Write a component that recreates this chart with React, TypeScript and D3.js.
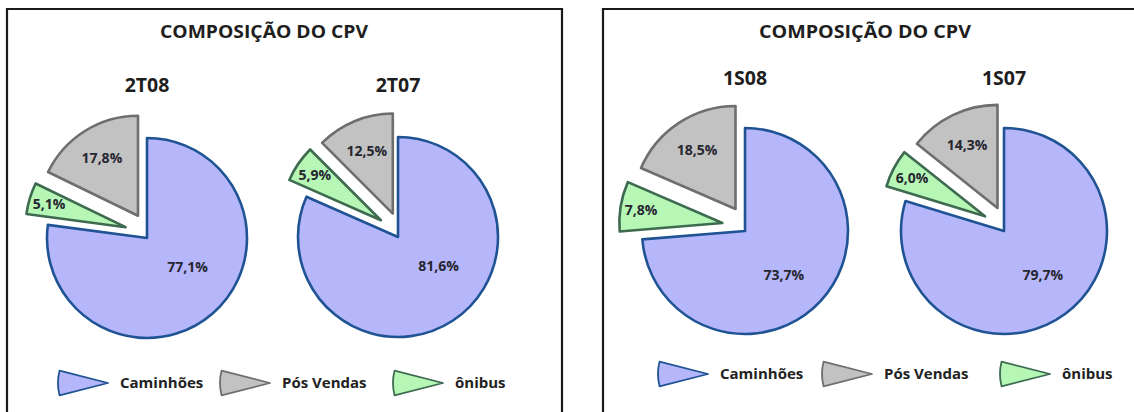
import React from "react";
import * as d3 from "d3";

// ---------- data ----------
const chartTitle = "COMPOSIÇÃO DO CPV";
const periods = ["2T08", "2T07", "1S08", "1S07"];
const sliceOrder = ["Caminhões", "ônibus", "Pós Vendas"]; // clockwise from 12 o'clock
const legendOrder = ["Caminhões", "Pós Vendas", "ônibus"];
const caminhoes = [77.1, 81.6, 73.7, 79.7];
const onibus = [5.1, 5.9, 7.8, 6.0];
const posVendas = [17.8, 12.5, 18.5, 14.3];

// ---------- styles ----------
const styleOf: Record<string, { fill: string; stroke: string; explode: number; labelF: number }> = {
  "Caminhões": { fill: "#b6b6fb", stroke: "#1f5394", explode: 0, labelF: 0.5 },
  "ônibus": { fill: "#b6f7b6", stroke: "#3e6b50", explode: 24, labelF: 0.8 },
  "Pós Vendas": { fill: "#c2c2c2", stroke: "#6e6e6e", explode: 24, labelF: 0.68 },
};
const FONT = "'Open Sans', 'Noto Sans', sans-serif";

// ---------- layout ----------
const panels = [
  {
    x: 7, y: 9, w: 555,
    titleX: 264, titleLen: 208, titleBase: 37.5,
    periodBase: 91.5,
    r: 100,
    mainLabel: { angle: 126, dist: 50 },
    pies: [{ p: 0, cx: 147, cy: 238 }, { p: 1, cx: 398, cy: 237 }],
    legendY: 383,
    legendX: [58, 220, 393],
  },
  {
    x: 603, y: 9, w: 560,
    titleX: 865, titleLen: 212, titleBase: 37.5,
    periodBase: 85,
    r: 103,
    mainLabel: { angle: 139, dist: 59 },
    pies: [{ p: 2, cx: 745, cy: 231 }, { p: 3, cx: 1004, cy: 231 }],
    legendY: 374,
    legendX: [658, 822, 1000],
  },
];

const fmt = (v: number) => d3.format(".1f")(v).replace(".", ",") + "%";
const valuesFor = (i: number) => [caminhoes[i], onibus[i], posVendas[i]];

const pieGen = d3.pie<number>().sort(null).value((d) => d);

function Pie({ p, cx, cy, r, mainLabel }: { p: number; cx: number; cy: number; r: number; mainLabel: { angle: number; dist: number } }) {
  const arcs = pieGen(valuesFor(p));
  const arcGen = d3.arc<d3.PieArcDatum<number>>().innerRadius(0).outerRadius(r);
  const rot = (10 * Math.PI) / 180;
  return (
    <g>
      {arcs.map((a, k) => {
        const name = sliceOrder[k];
        const st = styleOf[name];
        const mid = (a.startAngle + a.endAngle) / 2;
        const ea = mid + (st.explode ? rot : 0);
        const ox = Math.sin(ea) * st.explode;
        const oy = -Math.cos(ea) * st.explode;
        let lx = Math.sin(mid) * r * st.labelF;
        let ly = -Math.cos(mid) * r * st.labelF;
        if (k === 0) {
          const la = (mainLabel.angle * Math.PI) / 180;
          lx = Math.sin(la) * mainLabel.dist;
          ly = -Math.cos(la) * mainLabel.dist;
        }
        return (
          <g key={name} transform={`translate(${cx + ox},${cy + oy})`}>
            <path d={arcGen(a) || ""} fill={st.fill} stroke={st.stroke} strokeWidth={2.6} strokeLinejoin="round" />
            <text x={lx} y={ly} dy="0.35em" textAnchor="middle" fontFamily={FONT} fontWeight={700} fontSize={14} fill="#262630">
              {fmt(a.value)}
            </text>
          </g>
        );
      })}
    </g>
  );
}

function LegendGlyph({ x, y, name }: { x: number; y: number; name: string }) {
  const st = styleOf[name];
  const g = d3.arc<any>()
    .innerRadius(0)
    .outerRadius(50)
    .startAngle(-Math.PI / 2 - 0.25)
    .endAngle(-Math.PI / 2 + 0.25);
  return (
    <g transform={`translate(${x + 50},${y})`}>
      <path d={g({}) || ""} fill={st.fill} stroke={st.stroke} strokeWidth={1.8} strokeLinejoin="round" />
    </g>
  );
}

export default function App() {
  return (
    <div style={{ position: "fixed", left: 0, top: 0, background: "#fff" }}>
      <svg width={1134} height={412} style={{ display: "block" }}>
        <rect x={0} y={0} width={1134} height={412} fill="#fff" />
        {panels.map((pn, pi) => (
          <g key={pi}>
            <path
              d={`M${pn.x},${412 + 5} V${pn.y} H${pn.x + pn.w} V${412 + 5}`}
              fill="none"
              stroke="#1a1a1a"
              strokeWidth={2.2}
            />
            <text x={pn.titleX} y={pn.titleBase} textAnchor="middle" fontFamily={FONT} fontWeight={700} fontSize={18.5}
              fill="#1e1e1e" textLength={pn.titleLen} lengthAdjust="spacingAndGlyphs">
              {chartTitle}
            </text>
            {pn.pies.map((pp) => (
              <g key={pp.p}>
                <text x={pp.cx} y={pn.periodBase} textAnchor="middle" fontFamily={FONT} fontWeight={700} fontSize={19.5} fill="#1e1e1e">
                  {periods[pp.p]}
                </text>
                <Pie p={pp.p} cx={pp.cx} cy={pp.cy} r={pn.r} mainLabel={pn.mainLabel} />
              </g>
            ))}
            {legendOrder.map((name, k) => (
              <g key={name}>
                <LegendGlyph x={pn.legendX[k]} y={pn.legendY} name={name} />
                <text x={pn.legendX[k] + 62} y={pn.legendY} dy="0.36em" fontFamily={FONT} fontWeight={700} fontSize={15} fill="#222">
                  {name}
                </text>
              </g>
            ))}
          </g>
        ))}
      </svg>
    </div>
  );
}
